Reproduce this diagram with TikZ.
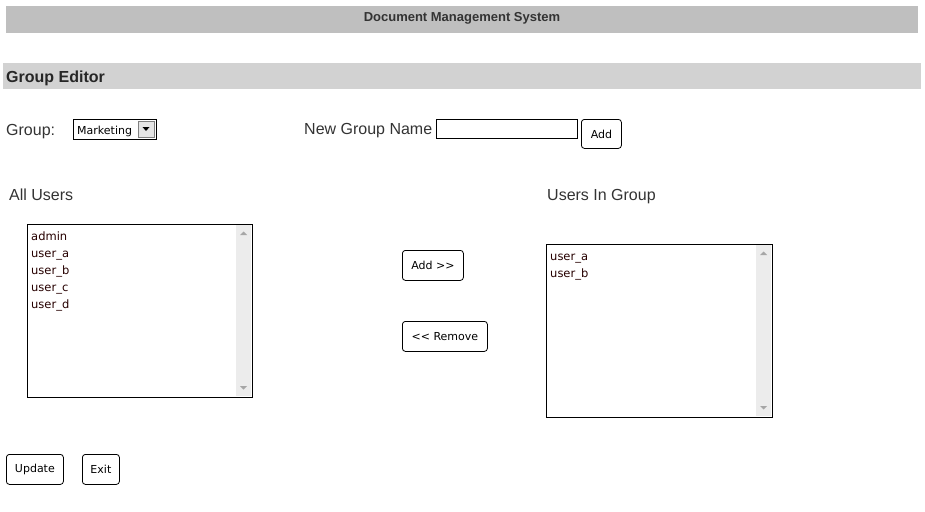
\documentclass[tikz,border=0pt]{standalone}
\usepackage{fontspec}
\setmainfont{Liberation Sans}
\newfontfamily\uifont{DejaVu Sans}
\usetikzlibrary{positioning}

\tikzset{
  bar/.style={fill=#1, draw=none},
  btn/.style={draw, rounded corners=3pt, line width=0.8pt, font=\uifont\fontsize{11}{12}\selectfont,
    anchor=north west, inner sep=0pt},
  label/.style={anchor=base west, inner sep=0pt, font=\fontsize{16}{18}\selectfont, text=black!80},
  item/.style={anchor=base west, inner sep=0pt, font=\uifont\fontsize{11.5}{13}\selectfont, text=black!85!red},
  listbox/.style={draw, line width=0.8pt},
  arr/.style={fill=gray!70, draw=none}
}

\begin{document}
\begin{tikzpicture}[x=1pt, y=-1pt]
        \useasboundingbox (0,0) rectangle (925,511);

        % Title bars
        \fill[bar=gray!50] (6,6) rectangle (918,33);
        \node[anchor=base, inner sep=0pt, font=\bfseries\fontsize{13}{15}\selectfont, text=black!80] (title) at (462,22) {Document Management System};
        \fill[bar=gray!35] (3,63) rectangle (921,89);
        \node[anchor=base west, inner sep=0pt, font=\bfseries\fontsize{16}{18}\selectfont, text=black!85] (editor) at (6,82) {Group Editor};

        % Group selection
        \node[label] (grouplbl) at (6,135) {Group:};
        \draw[line width=0.8pt] (73,119) rectangle (156,139);
        \node[anchor=base west, inner sep=0pt, font=\uifont\fontsize{11}{12}\selectfont] (grouptxt) at (77,134) {Marketing};
        \draw[fill=gray!20, draw=gray] (138,121) rectangle (154,137);
        \fill (142.5,127) -- (149.5,127) -- (146,131) -- cycle;

        % New group
        \node[label] (newlbl) at (304,134) {New Group Name};
        \draw[line width=0.8pt] (436,119) rectangle (577,138);
        \node[btn, minimum width=40pt, minimum height=29pt] (addgrp) at (581,119) {Add};

        % Headings
        \node[label] (alllbl) at (9,200) {All Users};
        \node[label] (inlbl) at (547,200) {Users In Group};

        % All users list
        \fill[gray!15] (236,225) rectangle (251,396);
        \draw[listbox] (27,224) rectangle (252,397);
        \fill[arr] (240,235) -- (247,235) -- (243.5,231.5) -- cycle;
        \fill[arr] (240,386) -- (247,386) -- (243.5,389.5) -- cycle;
        \foreach \name [count=\i from 0] in {admin, user\_a, user\_b, user\_c, user\_d}
          \node[item] (all\i) at (31,240+17*\i) {\name};

        % Group members list
        \fill[gray!15] (756,245) rectangle (771,416);
        \draw[listbox] (546,244) rectangle (772,417);
        \fill[arr] (760,255) -- (767,255) -- (763.5,251.5) -- cycle;
        \fill[arr] (760,406) -- (767,406) -- (763.5,409.5) -- cycle;
        \foreach \name [count=\i from 0] in {user\_a, user\_b}
          \node[item] (in\i) at (550,260+17*\i) {\name};

        % Move buttons
        \node[btn, minimum width=61pt, minimum height=30pt] (addbtn) at (402,250) {Add >>};
        \node[btn, minimum width=85pt, minimum height=30pt] (rembtn) at (402,321) {<< Remove};

        % Bottom buttons
        \node[btn, minimum width=57pt, minimum height=30pt] (update) at (6,454) {Update};
        \node[btn, minimum width=37pt, minimum height=30pt] (exit) at (82,454) {Exit};
\end{tikzpicture}
\end{document}
